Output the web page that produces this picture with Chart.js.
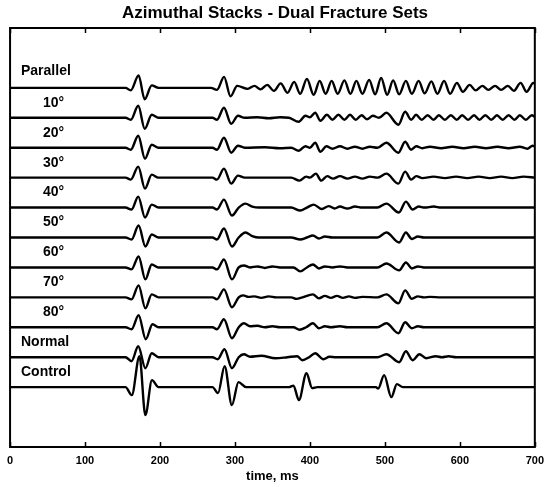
<!DOCTYPE html>
<html>
<head>
<meta charset="utf-8">
<script src="https://cdn.jsdelivr.net/npm/chart.js@4"></script>
<style>
  html, body { margin: 0; padding: 0; background: #fff; }
  #wrap { width: 551px; height: 487px; }
</style>
</head>
<body>
<div id="wrap"><canvas id="stackChart"></canvas></div>
<script>
// =========================
// Trace data: time (ms) and relative amplitude of each turning point
// =========================

const traceLabels = ["Parallel", "10°", "20°", "30°", "40°", "50°", "60°", "70°", "80°", "Normal", "Control"];
const xTicks = [0, 100, 200, 300, 400, 500, 600, 700];

const parallelT = [0, 154, 161, 171.5, 179.5, 189, 198, 268, 276, 285.5, 294, 303, 317, 326, 334, 343, 352, 361, 370, 379, 387, 396, 405,
  413, 421, 429, 437, 446, 454, 462, 470, 479, 487, 495, 503, 511, 519, 528, 536, 545, 553, 562, 570, 579, 587,
  596, 604, 613, 621, 630, 638, 647, 655, 664, 672, 681, 689, 698, 700];
const parallelA = [0, 0, -2.5, 12.5, -11.5, 2.5, 0, 0, -2, 11, -8.5, 2, -1, 2, -1.5, 3, -3, 4.5, -5, 6, -6, 9, -7,
  7, -6, 7, -6, 7.5, -6, 7, -6, 8, -6.5, 10, -7, 7.5, -6.5, 7, -6, 7, -5.5, 6.5, -6, 7, -6,
  5, -4, 3, -2.5, 2, -2, 2, -2, 2, -3, 5, -4, 5, 4];

const deg10T = [0, 154, 161, 171, 179.6, 189, 198, 270, 276, 285.3, 295, 304, 313, 330, 345, 360, 372, 385, 394, 400, 407, 414,
  422.7, 430, 438, 446, 453.5, 461, 469, 476, 484, 492, 502, 518, 527, 535, 541.6, 549, 557, 565, 572, 580, 588, 596,
  603, 611, 619, 626, 634, 642, 649.5, 657, 665, 673, 680, 688, 696, 700];
const deg10A = [0, 0, -2, 12, -11, 3, 0, 0, -2, 10, -6, 2, 0, 0.5, -0.5, 0.5, 0, -4, 2, 0.5, 5, -3,
  3, -2, 3, -2, 3, -2, 2.5, -1.5, 2, 0, 5, -7, 6, -2, 3, -2, 2.5, -2, 2.5, -2, 2.5, -2,
  2.5, -2, 2.5, -2, 2.5, -2, 2.5, -2, 2.5, -2, 2.5, -2, 2.5, 1];

const deg20T = [0, 154, 161, 171, 180, 189, 198, 270, 276, 285.3, 295, 304, 313, 340, 360, 375, 385, 394, 400, 407, 414, 422,
  430, 440, 450, 460, 470, 480, 490, 502, 518, 527, 535, 542, 550, 560, 575, 590, 605, 620, 635, 650, 665, 680, 690, 697, 700];
const deg20A = [0, 0, -2, 12, -11, 3, 0, 0, -2, 10, -5, 2, 0, 0.5, -0.5, 0, -3, 1.5, 0, 5, -4, 1.5,
  -1, 1.5, -1, 1, -1, 1, 0, 5, -5, 6, -2, 1.5, -0.5, 1, -0.5, 1, -0.5, 1, -0.5, 1, -0.5, 1, -1, 2, 1];

const deg30T = [0, 154, 161, 171, 180, 189, 198, 270, 276, 285.3, 295, 304, 313, 375, 386, 395, 400, 408, 415, 423, 431, 440,
  450, 460, 470, 480, 490, 502, 518, 527, 535, 542, 550, 565, 580, 595, 610, 625, 640, 655, 670, 685, 700];
const deg30A = [0, 0, -2, 11, -11, 3, 0, 0, -2, 9, -6, 2, 0, 0, -3, 1, 0, 4, -3, 1.5, -1, 1.5,
  -1, 1, -1, 1, 0, 4, -6, 6, -2, 1.5, -0.5, 1, -0.5, 1, -0.5, 1, -0.5, 1, -0.5, 1, 0];

const deg40T = [0, 154, 162, 171, 180, 189, 198, 270, 276, 285.3, 296, 305, 314, 323, 332, 375, 387, 396, 405, 416, 425, 433,
  440, 450, 460, 470, 490, 502, 518.7, 528, 537, 545, 553, 565, 575, 700];
const deg40A = [0, 0, -2, 11, -10, 3, 0, 0, -2, 8, -8, 0, 4, 1, 0, 0, -3, 0, 3, -1.5, 1.5, -1,
  1, -1, 1, 0, 0, 4, -5, 6, -2, 1, 0, 1, 0, 0];

const deg50T = [0, 154, 162, 171.5, 180.5, 189, 198, 270, 276, 285.3, 296, 305, 314, 323, 332, 375, 387, 396, 404, 412, 420, 430,
  490, 502, 519, 528, 536, 544, 552, 700];
const deg50A = [0, 0, -2, 12, -9, 3, 0, 0, -2, 9, -9, 0, 5, 1.5, 0, 0, -2, 0, 2, -1, 1, 0,
  0, 5, -5, 5, -1.5, 1, 0, 0];

const deg60T = [0, 154, 162, 171.5, 180.5, 189, 198, 270, 276, 285.3, 296, 305, 312, 320, 330, 340, 350, 360, 378, 387, 396, 404,
  412, 420, 430, 440, 450, 490, 502, 519, 528, 536, 544, 552, 700];
const deg60A = [0, 0, -2, 11, -12, 3, 0, 0, -2, 8, -12, 0, 2, 0, 1, -0.5, 1, 0, 0, -4, 0, 3,
  -1, 1, 0, 1, 0, 0, 4, -3, 5, -1, 1, 0, 0];

const deg70T = [0, 154, 162, 171.5, 180.5, 189, 198, 270, 276, 285.3, 296, 305, 311, 318, 326, 335, 345, 355, 375, 382, 390, 404,
  412, 420, 428, 436, 444, 452, 460, 470, 490, 502, 518, 527, 536, 544, 552, 560, 575, 700];
const deg70A = [0, 0, -2, 12, -11, 3, 0, 0, -2, 8, -10, 0, 2, 0.5, 1, -0.5, 1, 0, 0, -1.5, 0, 3,
  -1, 1.5, -0.5, 1.5, -0.5, 1, -0.5, 0.5, 0, 3, -6, 7, -1.5, 1, 0, 0.5, 0, 0];

const deg80T = [0, 154, 162, 171.5, 181, 190, 198, 270, 276, 285.3, 296, 305, 312, 320, 330, 340, 350, 360, 378, 386, 395, 404,
  412, 420, 428, 440, 450, 490, 502, 518, 527, 536, 544, 552, 700];
const deg80A = [0, 0, -2, 12, -12, 3, 0, 0, -2, 8, -11, 0, 4, 1, 1.5, 0, 1, 0, 0, -2.5, 0, 4,
  -1, 1, 0, 1, 0, 0, 4, -6, 5, -1, 1, 0, 0];

const normalT = [0, 154, 162, 171, 180.5, 189, 198, 270, 277, 286, 296, 305, 312, 320, 335, 354, 370, 383, 390, 399, 407, 418,
  426, 435, 490, 502, 519, 528, 537, 546, 555, 568, 576, 585, 595, 700];
const normalA = [0, 0, -4, 11, -11, 4, 0, 0, -2, 8, -11, 0, 3, 0.5, 1.5, -1, 0, 1, -3, 0, 4, -2,
  0.5, 0, 0, 3, -5, 6, -3, 3, -1, 1, 0, 1, 0, 0];

const controlT = [0, 154, 162.4, 172.6, 180.5, 189.3, 198, 270, 277.4, 286.2, 295.9, 304.7, 314.8, 372, 378, 385.3, 395.4, 403,
  410, 488, 491, 499, 508.6, 516, 524, 700];
const controlA = [0, 0, -8, 31, -28, 7, 0, 0, -6, 21, -18, 5, 0, 0, 1.5, -13, 14, -1,
  0, 0, -1.5, 12, -10, 3, 0, 0];

const traceTimes = [parallelT, deg10T, deg20T, deg30T, deg40T, deg50T, deg60T, deg70T, deg80T, normalT, controlT];
const traceAmps = [parallelA, deg10A, deg20A, deg30A, deg40A, deg50A, deg60A, deg70A, deg80A, normalA, controlA];

// =========================
// Build datasets (each trace sits on its own baseline)
// =========================

const gain = 1 / 30;
const nTraces = traceLabels.length;
const fontFamily = "'Liberation Sans', Arial, sans-serif";

function baselineOf(i) {
  return nTraces + 1 - i;
}

const datasets = traceLabels.map((label, i) => ({
  label: label,
  data: traceTimes[i].map((t, k) => ({ x: t, y: baselineOf(i) + traceAmps[i][k] * gain })),
  borderColor: "#000",
  borderWidth: 2.4,
  pointRadius: 0,
  fill: false,
  cubicInterpolationMode: "monotone"
}));

// =========================
// Frame, inward ticks and trace names
// =========================

const decorPlugin = {
  id: "decor",
  afterDatasetsDraw(chart) {
    const { ctx, chartArea, scales } = chart;
    const xs = scales.x, ys = scales.y;
    ctx.save();

    ctx.strokeStyle = "#000";
    ctx.lineWidth = 2;
    ctx.strokeRect(chartArea.left, chartArea.top, chartArea.right - chartArea.left, chartArea.bottom - chartArea.top);

    ctx.lineWidth = 1.5;
    xTicks.forEach(v => {
      const px = Math.round(xs.getPixelForValue(v)) + 0.5;
      ctx.beginPath();
      ctx.moveTo(px, chartArea.top);
      ctx.lineTo(px, chartArea.top + 5);
      ctx.moveTo(px, chartArea.bottom);
      ctx.lineTo(px, chartArea.bottom - 5);
      ctx.stroke();
    });

    ctx.fillStyle = "#000";
    ctx.font = "bold 14px " + fontFamily;
    ctx.textAlign = "left";
    ctx.textBaseline = "middle";
    traceLabels.forEach((label, i) => {
      const indent = label.includes("°") ? 43 : 21;
      const lift = i === 0 ? 17 : 15;
      ctx.fillText(label, indent, ys.getPixelForValue(baselineOf(i)) - lift);
    });

    ctx.restore();
  }
};

// =========================
// Create Chart
// =========================

const ctx = document.getElementById("stackChart").getContext("2d");

const stackChart = new Chart(ctx, {
  type: "line",
  data: { datasets: datasets },
  options: {
    responsive: true,
    maintainAspectRatio: false,
    animation: false,
    layout: { padding: { left: 10, right: 11, top: 0, bottom: 0 } },
    plugins: {
      legend: { display: false },
      tooltip: { enabled: false },
      title: {
        display: true,
        text: "Azimuthal Stacks - Dual Fracture Sets",
        color: "#000",
        font: { family: fontFamily, size: 17, weight: "bold" },
        padding: { top: 2.8, bottom: 4.8 }
      }
    },
    scales: {
      x: {
        type: "linear",
        min: 0,
        max: 700,
        afterBuildTicks: axis => { axis.ticks = xTicks.map(v => ({ value: v })); },
        afterFit: axis => { axis.height = 40; },
        ticks: {
          color: "#000",
          padding: 7,
          maxRotation: 0,
          font: { family: fontFamily, size: 11, weight: "bold" }
        },
        grid: { display: false, drawTicks: false },
        border: { display: false },
        title: {
          display: true,
          text: "time, ms",
          color: "#000",
          font: { family: fontFamily, size: 13, weight: "bold" },
          padding: { top: 1, bottom: 3.2 }
        }
      },
      y: {
        type: "linear",
        min: 0,
        max: 14,
        display: false
      }
    }
  },
  plugins: [decorPlugin]
});
</script>
</body>
</html>
